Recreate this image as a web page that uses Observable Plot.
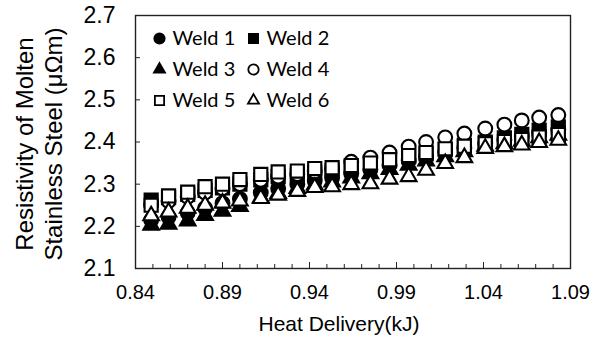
<!DOCTYPE html>
<html><head><meta charset="utf-8">
<script src="https://cdn.jsdelivr.net/npm/d3@7"></script>
<script src="https://cdn.jsdelivr.net/npm/@observablehq/plot@0.6"></script>
<style>body{margin:0;background:#fff}</style>
</head><body><div id="chart"></div>
<script>
const heat = [0.849, 0.859, 0.870, 0.880, 0.890, 0.900, 0.912, 0.922, 0.933, 0.943, 0.953, 0.964, 0.975, 0.986, 0.997, 1.007, 1.018, 1.029, 1.041, 1.052, 1.062, 1.072, 1.083];
const weld1 = [2.215, 2.222, 2.232, 2.243, 2.255, 2.265, 2.280, 2.290, 2.300, 2.308, 2.315, 2.325, 2.335, 2.345, 2.356, 2.366, 2.376, 2.386, 2.396, 2.405, 2.414, 2.422, 2.430];
const weld2 = [2.262, 2.268, 2.276, 2.285, 2.291, 2.300, 2.310, 2.318, 2.322, 2.328, 2.332, 2.340, 2.348, 2.356, 2.365, 2.372, 2.382, 2.392, 2.400, 2.410, 2.418, 2.428, 2.436];
const weld3 = [2.203, 2.205, 2.213, 2.226, 2.236, 2.247, 2.268, 2.278, 2.290, 2.298, 2.305, 2.315, 2.325, 2.335, 2.345, 2.355, 2.365, 2.377, 2.390, 2.396, 2.402, 2.410, 2.416];
const weld4 = [2.252, 2.260, 2.270, 2.280, 2.290, 2.300, 2.310, 2.318, 2.324, 2.330, 2.336, 2.353, 2.363, 2.375, 2.389, 2.400, 2.411, 2.420, 2.432, 2.441, 2.451, 2.458, 2.464];
const weld5 = [2.250, 2.272, 2.281, 2.294, 2.300, 2.311, 2.323, 2.329, 2.331, 2.337, 2.339, 2.344, 2.350, 2.358, 2.368, 2.375, 2.384, 2.390, 2.396, 2.401, 2.406, 2.412, 2.418];
const weld6 = [2.225, 2.234, 2.243, 2.250, 2.255, 2.260, 2.266, 2.274, 2.283, 2.292, 2.294, 2.299, 2.301, 2.312, 2.318, 2.333, 2.349, 2.363, 2.385, 2.389, 2.393, 2.399, 2.404];
const seriesNames = ["Weld 1", "Weld 2", "Weld 3", "Weld 4", "Weld 5", "Weld 6"];
const xTicks = [0.84, 0.89, 0.94, 0.99, 1.04, 1.09];
const xMinorTicks = [0.85, 0.86, 0.87, 0.88, 0.90, 0.91, 0.92, 0.93, 0.95, 0.96, 0.97, 0.98, 1.00, 1.01, 1.02, 1.03, 1.05, 1.06, 1.07, 1.08];
const yTicks = [2.1, 2.2, 2.3, 2.4, 2.5, 2.6, 2.7];
const xTitle = "Heat Delivery(kJ)";
const yTitle = "Resistivity of Molten\nStainless Steel (μΩm)";

const allSeries = [weld1, weld2, weld3, weld4, weld5, weld6];
const symbols = ["circle", "square", "triangle", "circle", "square", "triangle"];
const filled = [true, true, true, false, false, false];
const radius = {circle: 6.9, square: 7.4, triangle: 5.8};
const legendRadius = {circle: 5.2, square: 5.2, triangle: 4.1};

const W = 603, H = 338, mL = 135, mT = 15, mR = 33, mB = 70;
const plotW = W - mL - mR, plotH = H - mT - mB;

const marks = [];
allSeries.forEach((vals, i) => {
  const rows = heat.map((x, j) => ({x, y: vals[j]}));
  marks.push(Plot.dot(rows, {
    x: "x", y: "y", symbol: symbols[i], r: radius[symbols[i]],
    fill: filled[i] ? "black" : "white", stroke: "black", strokeWidth: 2.1
  }));
});
// ticks inside the frame
marks.push(Plot.ruleX(xTicks, {stroke: "#222", strokeWidth: 1, insetTop: plotH - 6}));
marks.push(Plot.ruleX(xMinorTicks, {stroke: "#222", strokeWidth: 1, insetTop: plotH - 4}));
marks.push(Plot.ruleY(yTicks, {stroke: "#222", strokeWidth: 1, insetRight: plotW - 5}));
marks.push(Plot.frame({stroke: "#222", strokeWidth: 1.4}));
marks.push(Plot.axisX(xTicks, {tickSize: 0, tickPadding: 16, fontSize: 20, label: null, tickFormat: d3.format(".2f")}));
marks.push(Plot.axisY(yTicks, {tickSize: 0, tickPadding: 20, fontSize: 23, label: null, tickFormat: d3.format(".1f")}));
marks.push(Plot.text([xTitle], {frameAnchor: "bottom", dx: -14, dy: 56, fontSize: 21, lineAnchor: "middle", fill: "black"}));
marks.push(Plot.text([yTitle], {frameAnchor: "left", rotate: -90, dx: -97, dy: 2, fontSize: 24, lineHeight: 1.2, lineAnchor: "middle", textAnchor: "middle", fill: "black"}));
// legend
seriesNames.forEach((name, i) => {
  const col = i % 2, row = Math.floor(i / 2);
  const mx = 24 + col * 94, my = 23 + row * 31;
  marks.push(Plot.dot([name], {frameAnchor: "top-left", dx: mx, dy: my, symbol: symbols[i], r: legendRadius[symbols[i]],
    fill: filled[i] ? "black" : "white", stroke: "black", strokeWidth: 1.8}));
  marks.push(Plot.text([name], {frameAnchor: "top-left", dx: mx + 13, dy: my, text: d => d, textAnchor: "start",
    lineAnchor: "middle", fontSize: 20, fontFamily: "Lato", fill: "black"}));
});

const chart = Plot.plot({
  width: W, height: H,
  marginLeft: mL, marginTop: mT, marginRight: mR, marginBottom: mB,
  style: {fontFamily: "'Liberation Sans', Arial, sans-serif", color: "black", background: "white"},
  x: {domain: [0.84, 1.09], axis: null},
  y: {domain: [2.1, 2.7], axis: null},
  marks
});
document.getElementById("chart").appendChild(chart);
</script>
</body></html>
